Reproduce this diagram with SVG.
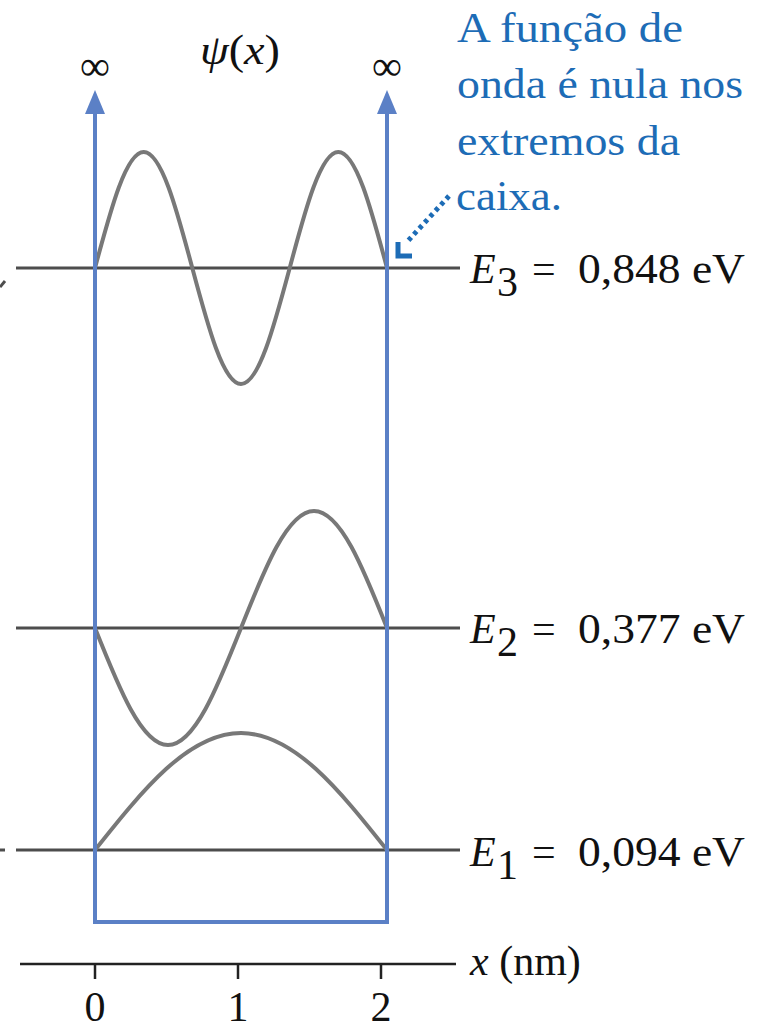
<svg xmlns="http://www.w3.org/2000/svg" width="767" height="1030" viewBox="0 0 767 1030">
<style>
.lvl{stroke:#4d4d4d;stroke-width:3;fill:none}
.wave{stroke:#787878;stroke-width:4;fill:none;stroke-linecap:round}
.wall{stroke:#5b80c6;stroke-width:4;fill:none}
.txt{font-family:"Liberation Serif","Times New Roman",serif;font-size:42px;fill:#111}
.it{font-style:italic}
.blue{font-family:"Liberation Serif","Times New Roman",serif;font-size:42px;fill:#1d6cb6}
.axis{stroke:#222;stroke-width:2.5;fill:none}
</style>
<rect width="767" height="1030" fill="#fff"/>
<g id="levels">
<line class="lvl" x1="16" y1="268" x2="460" y2="268"/>
<line class="lvl" x1="16" y1="628" x2="460" y2="628"/>
<line class="lvl" x1="16" y1="850" x2="460" y2="850"/>
<line class="lvl" x1="0" y1="287" x2="5" y2="281"/>
<line class="lvl" x1="0" y1="850" x2="5" y2="850"/>
</g>
<g id="waves">
<path id="psi1" class="wave" d="M95,850 C142.6,790.1 188.2,733 241,733 C293.8,733 339.4,790.1 387,850"/>
<path id="psi2" class="wave" d="M95,628 C118.8,687.9 141.6,745 168,745 C194.4,745 217.2,687.9 241,628 C264.8,568.1 287.6,511 314,511 C340.4,511 363.2,568.1 387,628"/>
<path id="psi3" class="wave" d="M95,268 C110.9,208.6 126.1,152 143.7,152 C161.3,152 176.5,208.6 192.3,268 C208.2,327.4 223.4,384 241,384 C258.6,384 273.8,327.4 289.7,268 C305.5,208.6 320.7,152 338.3,152 C356,152 371.1,208.6 387,268"/>
</g>
<g id="box">
<path class="wall" d="M95,108 L95,922 L387,922 L387,108"/>
<polygon points="95,90 85,114 105,114" fill="#5b80c6"/>
<polygon points="387,90 377,114 397,114" fill="#5b80c6"/>
</g>
<g id="axis">
<line class="axis" x1="20" y1="964" x2="456" y2="964"/>
<line class="axis" x1="95" y1="964" x2="95" y2="979"/>
<line class="axis" x1="238" y1="964" x2="238" y2="979"/>
<line class="axis" x1="381" y1="964" x2="381" y2="979"/>
<text class="txt" x="95" y="1021" text-anchor="middle">0</text>
<text class="txt" x="238" y="1021" text-anchor="middle">1</text>
<text class="txt" x="381" y="1021" text-anchor="middle">2</text>
<text class="txt" x="470" y="975"><tspan class="it">x</tspan> (nm)</text>
</g>
<g id="labels">
<text class="txt" x="95" y="80" text-anchor="middle" font-size="46">∞</text>
<text class="txt" x="387" y="80" text-anchor="middle" font-size="46">∞</text>
<text class="txt" x="200" y="64" font-size="45" textLength="80" lengthAdjust="spacingAndGlyphs"><tspan class="it">ψ</tspan>(<tspan class="it">x</tspan>)</text>
<text class="txt it" x="470" y="283">E</text><text class="txt" x="497" y="296" font-size="28">3</text><text class="txt" x="532" y="283">=</text><text class="txt" x="578" y="283" textLength="167" lengthAdjust="spacingAndGlyphs">0,848 eV</text>
<text class="txt it" x="470" y="643">E</text><text class="txt" x="497" y="656" font-size="28">2</text><text class="txt" x="532" y="643">=</text><text class="txt" x="578" y="643" textLength="167" lengthAdjust="spacingAndGlyphs">0,377 eV</text>
<text class="txt it" x="470" y="866">E</text><text class="txt" x="497" y="879" font-size="28">1</text><text class="txt" x="532" y="866">=</text><text class="txt" x="578" y="866" textLength="167" lengthAdjust="spacingAndGlyphs">0,094 eV</text>
</g>
<g id="note">
<text class="blue" x="457" y="42" textLength="226" lengthAdjust="spacingAndGlyphs">A função de</text>
<text class="blue" x="457" y="98" textLength="286" lengthAdjust="spacingAndGlyphs">onda é nula nos</text>
<text class="blue" x="457" y="155" textLength="223" lengthAdjust="spacingAndGlyphs">extremos da</text>
<text class="blue" x="456" y="210" textLength="106" lengthAdjust="spacingAndGlyphs">caixa.</text>
</g>
<g id="connector">
<line x1="449" y1="196" x2="406" y2="243" stroke="#1d6cb6" stroke-width="5" stroke-dasharray="4 4"/>
<path d="M398,242 L398,256 L412,256" stroke="#1d6cb6" stroke-width="5" fill="none"/>
</g>
</svg>
